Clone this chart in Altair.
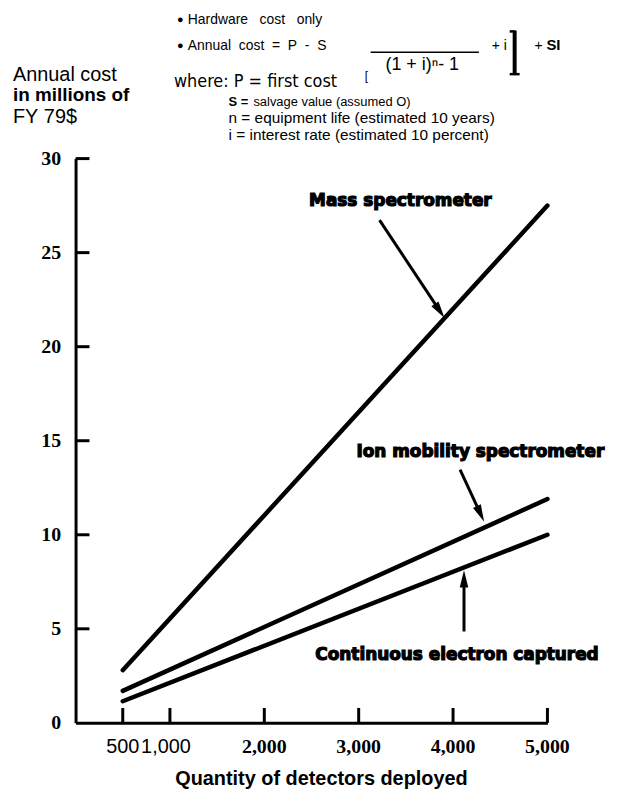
import altair as alt
import pandas as pd

# ---- data ----
series = ["Mass spectrometer", "Ion mobility spectrometer", "Continuous electron captured"]
quantity = [500, 5000]
mass_cost = [2.8, 27.5]
ion_cost = [1.7, 11.9]
cec_cost = [1.15, 10.0]

x_ticks = [500, 1000, 2000, 3000, 4000, 5000]
x_tick_labels = ["500", "1,000", "2,000", "3,000", "4,000", "5,000"]
y_ticks = [0, 5, 10, 15, 20, 25, 30]

rows = []
for name, vals in zip(series, [mass_cost, ion_cost, cec_cost]):
    for q, v in zip(quantity, vals):
        rows.append({"series": name, "quantity": q, "cost": v})
lines_df = pd.DataFrame(rows)
ticks_df = pd.DataFrame({"tick": x_ticks, "label": x_tick_labels})
yticks_df = pd.DataFrame({"tick": [t for t in y_ticks if t > 0]})
one = pd.DataFrame({"a": [0]})

W, H = 475, 568
SANS = "Liberation Sans, Arial, Helvetica, sans-serif"
NARROW = "Liberation Sans Narrow, Arial Narrow, DejaVu Sans Condensed, Liberation Sans, sans-serif"
SERIF = "Liberation Serif, Times New Roman, serif"
HEAVY = "DejaVu Sans, sans-serif"

xs = alt.Scale(domain=[0, 5000], nice=False, zero=True)
ys = alt.Scale(domain=[0, 30], nice=False)

base = alt.Chart(lines_df)

lines = base.mark_line(color="black", strokeWidth=4.5, strokeCap="round").encode(
    x=alt.X("quantity:Q", scale=xs,
            axis=alt.Axis(values=x_ticks, ticks=False, labels=False, grid=False,
                          domainColor="black", domainWidth=3,
                          title="Quantity of detectors deployed",
                          titleFont=SANS, titleFontSize=20, titleFontWeight="bold",
                          titleColor="black", titlePadding=46, titleX=247)),
    y=alt.Y("cost:Q", scale=ys,
            axis=alt.Axis(values=y_ticks, ticks=False, grid=False,
                          domainColor="black", domainWidth=3,
                          labelFont=SERIF, labelFontWeight="bold", labelFontSize=20,
                          labelColor="black", labelPadding=15, title=None)),
    detail="series:N",
)

# inward ticks
xtick_rules = alt.Chart(ticks_df).mark_rule(color="black", strokeWidth=3).encode(
    x=alt.X("tick:Q", scale=xs), y=alt.value(H), y2=alt.value(H - 15)
)
ytick_rules = alt.Chart(yticks_df).mark_rule(color="black", strokeWidth=3).encode(
    y=alt.Y("tick:Q", scale=ys), x=alt.value(0), x2=alt.value(14)
)

# x tick labels
lbl500 = alt.Chart(ticks_df).transform_filter("datum.tick == 500").mark_text(
    font=SANS, fontSize=20, color="black", baseline="middle"
).encode(x=alt.X("tick:Q", scale=xs), y=alt.value(H + 24), text="label:N")
lbl1000 = alt.Chart(ticks_df).transform_filter("datum.tick == 1000").mark_text(
    font=SANS, fontSize=20, color="black", baseline="middle", dx=-4
).encode(x=alt.X("tick:Q", scale=xs), y=alt.value(H + 24), text="label:N")
bold_labels = alt.Chart(ticks_df).transform_filter("datum.tick > 1000").mark_text(
    font=SERIF, fontSize=20, fontWeight="bold", color="black", baseline="middle"
).encode(x=alt.X("tick:Q", scale=xs), y=alt.value(H + 24), text="label:N")


def txt(s, x, y, size=14, weight="normal", font=SANS, align="left"):
    return alt.Chart(one).mark_text(
        text=s, align=align, baseline="middle", fontSize=size, fontWeight=weight,
        font=font, color="black"
    ).encode(x=alt.value(x), y=alt.value(y))


def seg(x1, y1, x2, y2, w):
    return alt.Chart(one).mark_rule(color="black", strokeWidth=w).encode(
        x=alt.value(x1), y=alt.value(y1), x2=alt.value(x2), y2=alt.value(y2)
    )


NB = "\u00a0"
header = [
    txt("\u25cf", 102, -139, 11),
    txt(f"Hardware{NB*3}cost{NB*3}only", 113, -139, 14),
    txt("\u25cf", 102, -113, 11),
    txt(f"Annual{NB*2}cost{NB*2}={NB*2}P{NB*2}-{NB*2}S", 113, -113, 14),
    seg(297, -107, 406, -107, 1.5),
    txt("(1 + i)\u207f- 1", 349, -94, 18, align="center"),
    txt("[", 291, -83, 12),
    txt(f"+{NB}i", 419, -113, 14),
    seg(442, -129, 442, -85, 4),
    seg(437, -128, 442, -128, 2.5),
    seg(437, -85, 447, -85, 2.5),
    txt("+", 462, -113, 14),
    txt("SI", 474, -114, 15, weight="bold"),
    txt(f"where:{NB}P = first cost", 99, -77, 18, font=NARROW),
    txt("S =", 154, -57, 13, weight="bold"),
    txt(f"salvage{NB}value{NB}(assumed{NB}O)", 179, -57, 13),
    txt("n\u00a0= equipment life (estimated 10 years)", 154, -41, 15.5),
    txt("i = interest rate (estimated\u00a010 percent)", 154, -24, 15.5),
    txt(f"Annual{NB}cost", -63, -84, 20),
    txt("in millions of", -63, -64, 19, weight="bold"),
    txt(f"FY{NB}79$", -63, -42, 20),
]


def dtxt(s, xv, yv, size=17):
    return alt.Chart(one).mark_text(
        text=s, align="center", baseline="middle", fontSize=size, fontWeight="bold",
        font=HEAVY, color="black", stroke="black", strokeWidth=1.2
    ).encode(x=alt.datum(xv, scale=xs), y=alt.datum(yv, scale=ys))


def arrow(x1, y1, x2, y2, ang):
    r = alt.Chart(one).mark_rule(color="black", strokeWidth=3).encode(
        x=alt.datum(x1, scale=xs), y=alt.datum(y1, scale=ys),
        x2=alt.datum(x2), y2=alt.datum(y2)
    )
    p = alt.Chart(one).mark_point(
        shape="M0,-1L0.5,1L-0.5,1Z", filled=True, color="black", opacity=1,
        size=300, angle=ang
    ).encode(x=alt.datum(x2, scale=xs), y=alt.datum(y2, scale=ys))
    return [r, p]


annotations = [
    dtxt("Mass spectrometer", 3442, 27.73),
    dtxt("Ion mobility spectrometer", 4289, 14.42),
    dtxt("Continuous electron captured", 4042, 3.59),
]
annotations += arrow(3221, 26.73, 3859, 21.90, 146)
annotations += arrow(4074, 13.47, 4291, 11.11, 155)
annotations += arrow(4116, 4.86, 4116, 7.66, 0)

chart = alt.layer(
    lines, xtick_rules, ytick_rules, lbl500, lbl1000, bold_labels, *header, *annotations
).properties(
    width=W, height=H,
    autosize=alt.AutoSizeParams(type="none"),
    padding={"left": 68, "top": 149, "right": 66, "bottom": 66},
    background="white",
).configure_view(stroke=None)

chart.save("out.html", embed_options={"renderer": "svg", "actions": False})
